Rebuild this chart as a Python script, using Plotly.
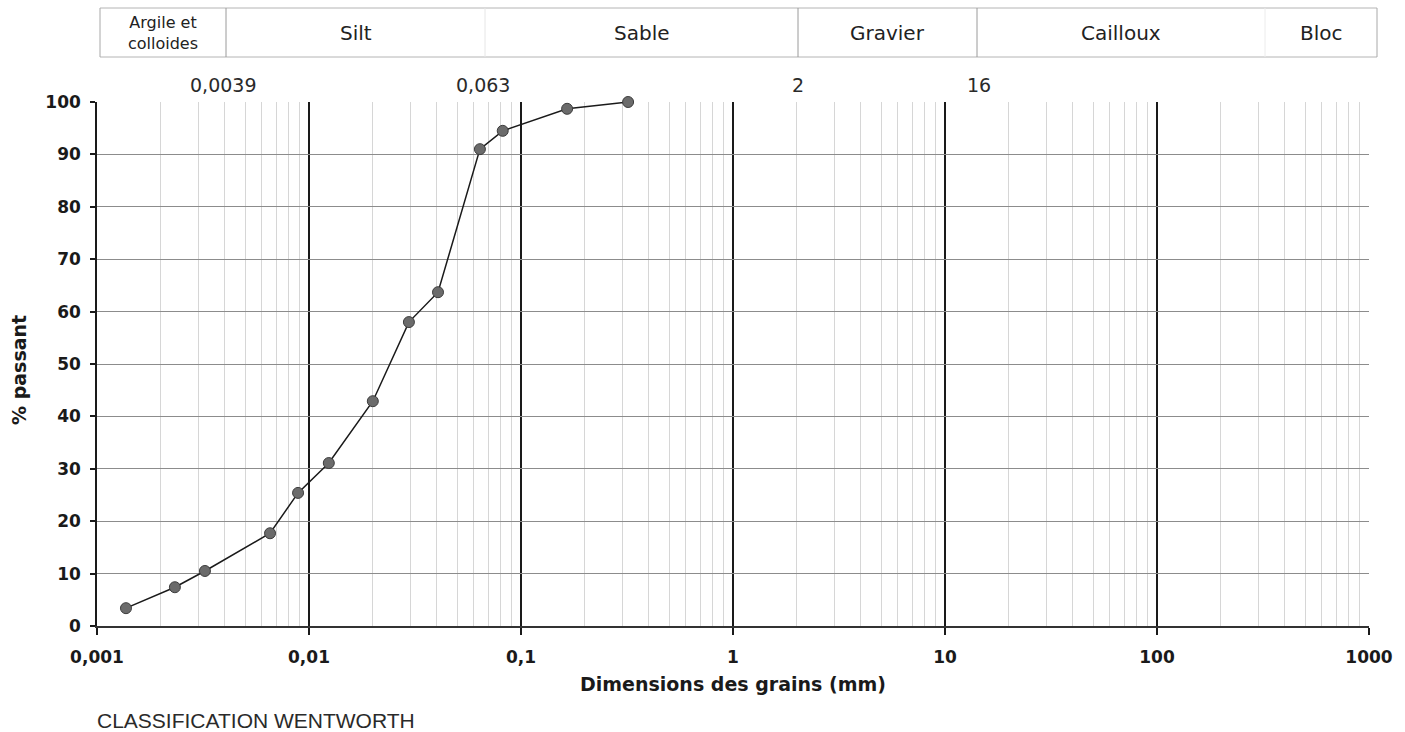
import plotly.graph_objects as go

# ---- data ----
grain_size_mm = [0.00137, 0.00233, 0.00323, 0.00655, 0.00888, 0.0124, 0.020,
                 0.0296, 0.0406, 0.064, 0.082, 0.165, 0.32]
percent_passing = [3.4, 7.4, 10.5, 17.7, 25.4, 31.1, 42.9, 58.0, 63.7, 91.0, 94.5, 98.7, 100.0]

x_tick_vals = [0.001, 0.01, 0.1, 1, 10, 100, 1000]
x_tick_text = ["0,001", "0,01", "0,1", "1", "10", "100", "1000"]
y_tick_vals = list(range(0, 101, 10))

classes = ["Argile et<br>colloides", "Silt", "Sable", "Gravier", "Cailloux", "Bloc"]
boundary_labels = ["0,0039", "0,063", "2", "16"]

minor_vals = [m * 10 ** e for e in range(-3, 3) for m in range(2, 10)]

# ---- layout geometry (pixels of the 1405x732 page) ----
L, R, T, B = 97, 1369, 102, 626
W, H = R - L, B - T


def fx(px):
    return (px - L) / W


def fy(py):
    return (B - py) / H


DV = "DejaVu Sans, Verdana, sans-serif"
LS = "Liberation Sans, Arial, sans-serif"

col_edges_px = [100, 226, 485, 798, 977, 1265, 1377]
col_edge_color = ["#a8a8a8", "#9a9a9a", "#e6e6e6", "#9a9a9a", "#9a9a9a", "#ececec", "#a8a8a8"]
label_px = [223, 483, 798, 979]

fig = go.Figure()
fig.add_trace(go.Scatter(
    x=grain_size_mm, y=percent_passing, mode="lines+markers",
    line=dict(color="#1a1a1a", width=1.5),
    marker=dict(size=11, color="#6b6b6b", line=dict(color="#3c3c3c", width=1)),
    showlegend=False, hoverinfo="x+y", cliponaxis=False,
))

shapes = []
# header table
top_y, bot_y = fy(8), fy(57)
shapes.append(dict(type="line", xref="paper", yref="paper", x0=fx(100), x1=fx(1377),
                   y0=top_y, y1=top_y, line=dict(color="#b4b4b4", width=1)))
shapes.append(dict(type="line", xref="paper", yref="paper", x0=fx(100), x1=fx(1377),
                   y0=bot_y, y1=bot_y, line=dict(color="#b4b4b4", width=1)))
for px, c in zip(col_edges_px, col_edge_color):
    shapes.append(dict(type="line", xref="paper", yref="paper", x0=fx(px), x1=fx(px),
                       y0=bot_y, y1=top_y, line=dict(color=c, width=1)))

annotations = []
for i, name in enumerate(classes):
    cx = (col_edges_px[i] + col_edges_px[i + 1]) / 2
    small = i == 0
    annotations.append(dict(
        xref="paper", yref="paper", x=fx(cx), y=fy(33), text=name, showarrow=False,
        xanchor="center", yanchor="middle",
        font=dict(family=DV, size=16 if small else 20, color="#222222"),
    ))
for px, t in zip(label_px, boundary_labels):
    annotations.append(dict(
        xref="paper", yref="paper", x=fx(px), y=fy(85), text=t, showarrow=False,
        xanchor="center", yanchor="middle",
        font=dict(family=DV, size=19, color="#2a2a2a"),
    ))
annotations.append(dict(
    xref="paper", yref="paper", x=fx(95), y=fy(720), text="CLASSIFICATION WENTWORTH",
    showarrow=False, xanchor="left", yanchor="middle",
    font=dict(family=LS, size=21, color="#2a2a2a"),
))
annotations.append(dict(
    xref="paper", yref="paper", x=fx(733), y=fy(684), text="Dimensions des grains (mm)",
    showarrow=False, xanchor="center", yanchor="middle",
    font=dict(family=DV, size=19, color="#1a1a1a", weight="bold"),
))
annotations.append(dict(
    xref="paper", yref="paper", x=fx(19), y=fy(370), text="% passant", textangle=-90,
    showarrow=False, xanchor="center", yanchor="middle",
    font=dict(family=DV, size=19, color="#1a1a1a", weight="bold"),
))

fig.update_layout(
    width=1405, height=732,
    margin=dict(l=L, r=1405 - R, t=T, b=732 - B),
    paper_bgcolor="white", plot_bgcolor="white",
    shapes=shapes, annotations=annotations,
    font=dict(family=DV, color="#1a1a1a"),
)
fig.update_xaxes(
    type="log", range=[-3, 3],
    tickmode="array", tickvals=x_tick_vals, ticktext=x_tick_text,
    tickfont=dict(family=DV, size=17, weight="bold", color="#1a1a1a"),
    ticks="outside", ticklen=7, tickcolor="#1a1a1a", tickwidth=1.5,
    ticklabelstandoff=8,
    showgrid=True, gridcolor="#1a1a1a", gridwidth=1.5,
    showline=True, linecolor="#333333", linewidth=2,
    minor=dict(tickmode="array", tickvals=minor_vals, showgrid=True,
               gridcolor="#d6d6d6", gridwidth=1, ticks=""),
    zeroline=False,
)
fig.update_yaxes(
    range=[0, 100], tickmode="array", tickvals=y_tick_vals,
    tickfont=dict(family=DV, size=17, weight="bold", color="#1a1a1a"),
    ticks="outside", ticklen=5, tickcolor="#1a1a1a", tickwidth=1.5,
    ticklabelstandoff=6,
    showgrid=True, gridcolor="#8c8c8c", gridwidth=1,
    showline=True, linecolor="#1a1a1a", linewidth=1.5,
    zeroline=False,
)

fig.write_html("out.html")
